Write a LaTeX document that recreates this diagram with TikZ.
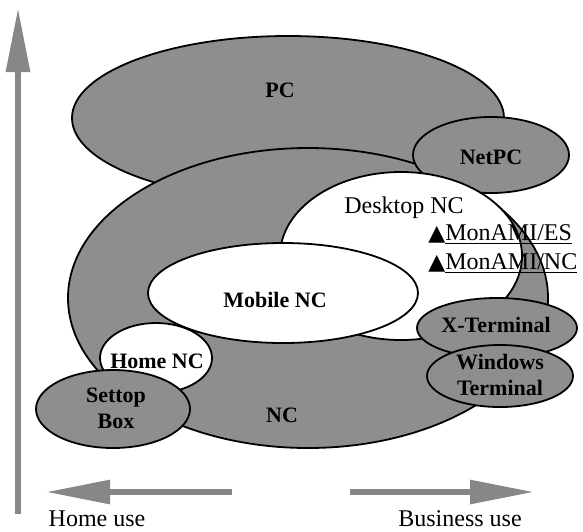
\documentclass[tikz,border=0pt]{standalone}
\usepackage{fontspec}
\setmainfont{Liberation Serif}
\newfontfamily\symfont{DejaVu Sans}
\definecolor{scangray}{RGB}{142,142,142}
\definecolor{axisgray}{RGB}{135,135,135}
\usetikzlibrary{arrows.meta}

\begin{document}
\begin{tikzpicture}[x=0.5pt,y=-0.5pt,
    every node/.style={font=\fontsize{12}{13}\selectfont},
    blob/.style={draw,line width=0.9pt,fill=scangray},
    hole/.style={draw,line width=0.9pt,fill=white},
    tag/.style={font=\fontsize{11}{13}\selectfont\bfseries,align=center},
    axis/.style={draw=axisgray,line width=3pt,
      -{Triangle[length=32pt,width=11.5pt,fill=axisgray]}}]
  \useasboundingbox (0,0) rectangle (583,531);
  %% Axes
  \coordinate (up0) at (18,514);
  \coordinate (up1) at (18,8);
  \coordinate (home0) at (232,492);
  \coordinate (home1) at (46,492);
  \coordinate (biz0) at (350,492);
  \coordinate (biz1) at (534,492);
  \draw[axis] (up0) -- (up1);
  \draw[axis] (home0) -- (home1);
  \draw[axis] (biz0) -- (biz1);
  \node (homeuse) at (97,519) {Home use};
  \node (bizuse) at (460,519) {Business use};
  %% PC and NC
  \draw[blob] (288,118) ellipse [x radius=216, y radius=82];
  \draw[blob] (308,298) ellipse [x radius=240, y radius=150];
  \draw[blob] (491,155) ellipse [x radius=78, y radius=38];
  %% Desktop NC
  \draw[hole] (401,256) ellipse [x radius=121, y radius=84];
  %% Mobile NC
  \draw[hole] (283,293) ellipse [x radius=135, y radius=50];
  %% Home NC and Settop Box
  \draw[hole] (156,358) ellipse [x radius=56, y radius=35];
  \draw[blob] (113,409) ellipse [x radius=77, y radius=39];
  %% Terminals
  \draw[blob] (497,328) ellipse [x radius=80, y radius=30];
  \draw[blob] (500,376) ellipse [x radius=73, y radius=31];
  %% Labels
  \node[tag] (pc) at (280,90) {PC};
  \node[tag] (netpc) at (491,157) {NetPC};
  \node (desktop) at (404,208) {Desktop NC};
  \node[anchor=west,inner sep=0pt] (monames) at (428,235)
    {{\symfont\fontsize{11}{12}\selectfont▲}\underline{MonAMI/ES}};
  \node[anchor=west,inner sep=0pt] (monamnc) at (428,264)
    {{\symfont\fontsize{11}{12}\selectfont▲}\underline{MonAMI/NC}};
  \node[tag] (mobile) at (275,300) {Mobile NC};
  \node[tag] (homenc) at (157,361) {Home NC};
  \node[tag] (settop) at (116,408) {Settop\\Box};
  \node[tag] (nc) at (282,415) {NC};
  \node[tag] (xterm) at (496,325) {X-Terminal};
  \node[tag] (winterm) at (500,375) {Windows\\Terminal};
\end{tikzpicture}
\end{document}
